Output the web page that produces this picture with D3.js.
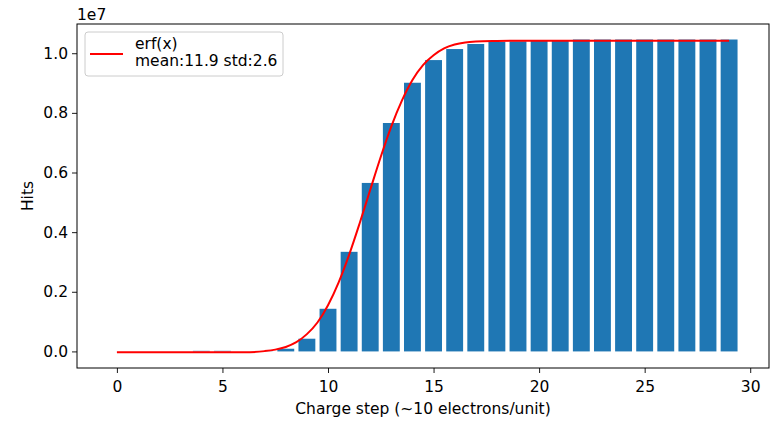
<!DOCTYPE html>
<html>
<head>
<meta charset="utf-8">
<script src="https://cdn.jsdelivr.net/npm/d3@7"></script>
<style>
  body { margin: 0; background: #fff; }
  svg text { font-family: "DejaVu Sans", sans-serif; fill: #000; }
</style>
</head>
<body>
<div id="chart"></div>
<script>

// Bar data: charge step and hits (in units of 1e7).
var steps = d3.range(0, 30);
var hits = [
  0, 0, 0, 0, 0.002, 0.002, 0, 0.0005, 0.009, 0.0426,
  0.143, 0.334, 0.565, 0.766, 0.901, 0.977, 1.014, 1.031, 1.038, 1.040,
  1.042, 1.043, 1.046, 1.046, 1.046, 1.046, 1.046, 1.046, 1.046, 1.046
];

// Fitted curve.
var curveX = [0, 2, 4, 6, 7, 7.5, 8, 8.5, 9, 9.5, 10, 10.5, 11, 11.5, 12, 12.5,
  13, 13.5, 14, 14.5, 15, 15.5, 16, 16.5, 17, 18, 19, 21, 25, 29];
var curveY = [-0.003, -0.003, -0.003, -0.003, 0.001, 0.006, 0.015, 0.031, 0.058, 0.097,
  0.155, 0.231, 0.324, 0.430, 0.542, 0.653, 0.755, 0.841, 0.910, 0.960,
  0.993, 1.016, 1.029, 1.036, 1.039, 1.041, 1.042, 1.042, 1.042, 1.042];

// Tick labels.
var xTicks = [0, 5, 10, 15, 20, 25, 30];
var yTicks = [0, 0.2, 0.4, 0.6, 0.8, 1.0];

var legendLabel = ['erf(x)', 'mean:11.9 std:2.6'];

var width = 773, height = 421;
var margin = { top: 24, right: 4, bottom: 53, left: 77 };
var fontSize = '15.5px';

var svg = d3.select('#chart').append('svg')
  .attr('width', width)
  .attr('height', height);

// Scales.
var x = d3.scaleLinear()
  .domain([-1.89, 30.89])
  .range([margin.left, width - margin.right]);

var y = d3.scaleLinear()
  .domain([-0.0556, 1.098])
  .range([height - margin.bottom, margin.top]);

var barW = x(0.8) - x(0);

// Bars.
svg.append('g').selectAll('rect')
  .data(steps)
  .enter().append('rect')
  .attr('x', function(d) { return x(d - 0.4); })
  .attr('width', barW)
  .attr('y', function(d, i) { return y(hits[i]); })
  .attr('height', function(d, i) { return y(0) - y(hits[i]); })
  .attr('fill', '#1f77b4');

// Fitted line.
var line = d3.line()
  .x(function(d, i) { return x(curveX[i]); })
  .y(function(d) { return y(d); })
  .curve(d3.curveMonotoneX);

svg.append('path')
  .datum(curveY)
  .attr('d', line)
  .attr('fill', 'none')
  .attr('stroke', 'red')
  .attr('stroke-width', 2);

// Axes.
var xAxis = svg.append('g')
  .attr('transform', 'translate(0,' + (height - margin.bottom) + ')')
  .call(d3.axisBottom(x).tickValues(xTicks).tickSize(5).tickPadding(8)
    .tickFormat(d3.format('d')));

var yAxis = svg.append('g')
  .attr('transform', 'translate(' + margin.left + ',0)')
  .call(d3.axisLeft(y).tickValues(yTicks).tickSize(5).tickPadding(4)
    .tickFormat(d3.format('.1f')));

[xAxis, yAxis].forEach(function(g) {
  g.select('.domain').remove();
  g.selectAll('line').attr('stroke', '#000').attr('stroke-width', 0.9);
  g.selectAll('text').style('font-size', fontSize);
});

// Frame.
svg.append('rect')
  .attr('x', margin.left)
  .attr('y', margin.top)
  .attr('width', width - margin.left - margin.right)
  .attr('height', height - margin.top - margin.bottom)
  .attr('fill', 'none')
  .attr('stroke', '#000')
  .attr('stroke-width', 1);

// Offset text and labels.
svg.append('text')
  .attr('x', margin.left)
  .attr('y', 20)
  .style('font-size', fontSize)
  .text('1e7');

svg.append('text')
  .attr('x', (margin.left + width - margin.right) / 2)
  .attr('y', 414)
  .attr('text-anchor', 'middle')
  .style('font-size', fontSize)
  .text('Charge step (~10 electrons/unit)');

svg.append('text')
  .attr('transform', 'translate(33,' + ((margin.top + height - margin.bottom) / 2) + ') rotate(-90)')
  .attr('text-anchor', 'middle')
  .style('font-size', fontSize)
  .text('Hits');

// Legend.
var legend = svg.append('g').attr('transform', 'translate(85,32)');

legend.append('rect')
  .attr('width', 198)
  .attr('height', 44)
  .attr('rx', 3)
  .attr('fill', '#fff')
  .attr('fill-opacity', 0.8)
  .attr('stroke', '#ccc');

legend.append('line')
  .attr('x1', 5).attr('x2', 38)
  .attr('y1', 22).attr('y2', 22)
  .attr('stroke', 'red')
  .attr('stroke-width', 2);

legend.selectAll('text.lab')
  .data(legendLabel)
  .enter().append('text')
  .attr('class', 'lab')
  .attr('x', 50)
  .attr('y', function(d, i) { return 17 + i * 16.5; })
  .style('font-size', fontSize)
  .text(function(d) { return d; });

</script>
</body>
</html>
